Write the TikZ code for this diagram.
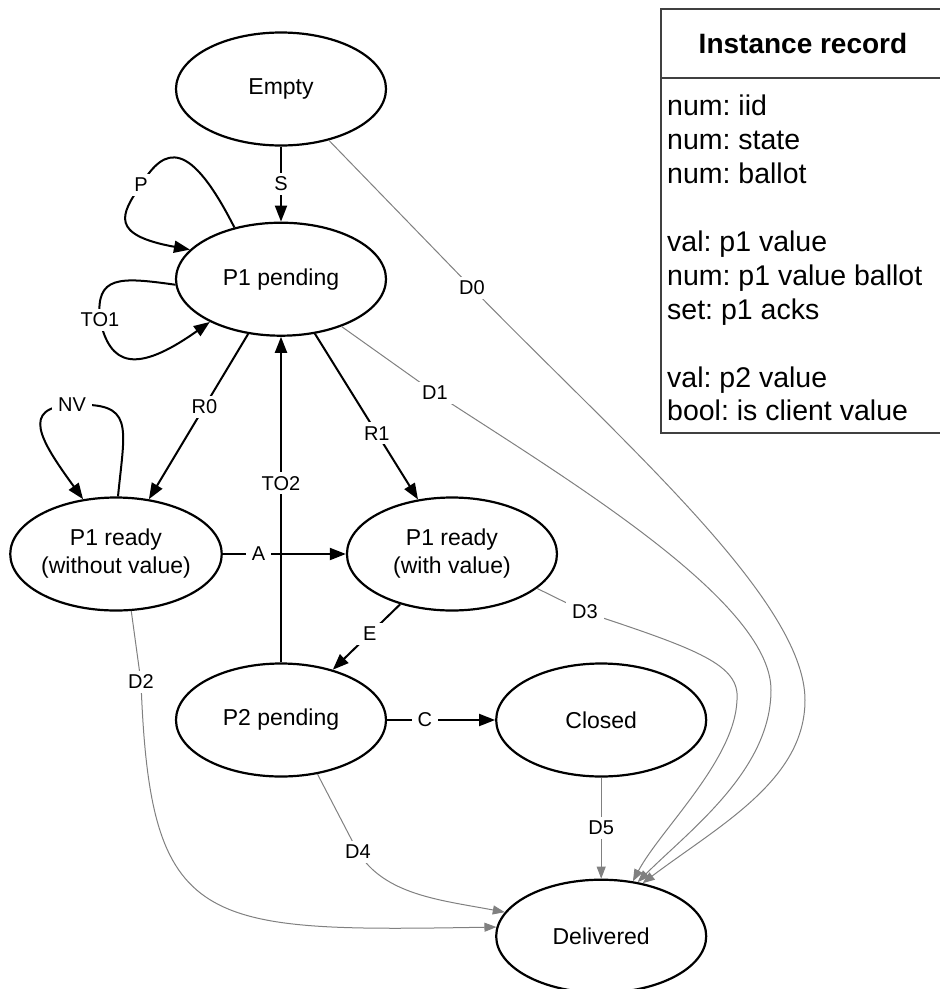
\documentclass[tikz,border=0pt]{standalone}
\usepackage{fontspec}
\setmainfont{Liberation Sans}
\usetikzlibrary{arrows.meta,shapes.geometric,positioning}

\definecolor{dropgray}{RGB}{128,128,128}
\frenchspacing

\begin{document}
\begin{tikzpicture}[x=1pt,y=-1pt,node distance=75pt,
                     state/.style={
                                % The shape:
                                ellipse,minimum width=210pt,minimum height=113pt,inner sep=0pt,
                                % The rest
                                line width=2.2pt,draw=black,align=center,
                                font=\fontsize{23}{28}\selectfont},
                     trans/.style={line width=2pt,-{Triangle[length=16pt,width=12pt]}},
                     drop/.style={line width=1pt,draw=dropgray,
                                -{Triangle[length=12pt,width=9pt]}},
                     lab/.style={fill=white,inner xsep=6pt,inner ysep=4pt,
                                font=\fontsize{20}{24}\selectfont},
                     record/.style={draw=black!75,line width=1.2pt,inner sep=0pt,
                                outer sep=0pt,minimum width=284pt}]
 \useasboundingbox (0,0) rectangle (940,989);
 \clip (0,0) rectangle (940,989);
 % states
 \node (empty)    [state]                     at (281,89)  {Empty};
            \node (pend1)    [state,below=of empty]      {P1 pending};
            \node (readyno)  [state]                     at (116,554) {P1 ready\\(without value)};
            \node (readyval) [state,right=123pt of readyno] {P1 ready\\(with value)};
            \node (pend2)    [state]                     at (281,720) {P2 pending};
            \node (closed)   [state,right=108pt of pend2] {Closed};
            \node (deliv)    [state,below=101pt of closed] {Delivered};
 % record
 \node (rechead) [record,anchor=north west,minimum height=69pt,
                  font=\fontsize{28}{33}\selectfont\bfseries] at (661,9) {Instance record};
            \node (recbody) [record,anchor=north west,minimum height=355pt] at (rechead.south west) {};
            \node (rectext) [anchor=north west,align=left,inner sep=0pt,
                  font=\fontsize{28.5}{33.9}\selectfont] at (667,95)
                  {num: iid\\num: state\\num: ballot\\[33.9pt]val: p1 value\\num: p1 value ballot\\
                   set: p1 acks\\[33.9pt]val: p2 value\\bool: is client value};
 % transitions
 \draw [trans] (empty) -- node [lab] {S} (pend1);
            \draw [trans] (pend1) -- node [lab,pos=.44] {R0} (readyno);
            \draw [trans] (pend1) -- node [lab,pos=.6] {R1} (readyval);
            \draw [trans] (pend2) -- node [lab,pos=.55] {TO2} (pend1);
            \draw [trans] (readyno) -- node [lab,pos=.29] {A} (readyval);
            \draw [trans] (readyval) -- node [lab,pos=.45] {E} (pend2);
            \draw [trans] (pend2) -- node [lab,pos=.35] {C} (closed);
            \draw [trans] (pend1.132) .. controls (190,140) and (165,145) .. (141,185) node [lab] {P}
                              .. controls (120,215) and (110,235) .. (pend1.162);
            \draw [trans] (pend1.183) .. controls (120,277) and (95,275) .. (100,320) node [lab] {TO1}
                              .. controls (110,365) and (135,375) .. (pend1.-149);
            \draw [trans] (readyno.88) .. controls (125,425) and (135,402) .. (72,405) node [lab] {NV}
                              .. controls (20,407) and (40,440) .. (readyno.121);
 % deliveries
 \draw [drop] (empty.-47) -- (472,288) node [lab] {D0}
                              .. controls (620,440) and (805,600) .. (805,700)
                              .. controls (805,780) and (720,825) .. (deliv.52);
            \draw [drop] (pend1.-38) -- (435,393) node [lab] {D1}
                              .. controls (560,475) and (771,600) .. (771,690)
                              .. controls (771,770) and (690,830) .. (deliv.56);
            \draw [drop] (readyno.-75) -- (141,682) node [lab] {D2}
                              .. controls (150,930) and (200,932) .. (deliv.175);
            \draw [drop] (readyval.-22) -- (585,612) node [lab] {D3}
                              .. controls (700,650) and (740,665) .. (737,700)
                              .. controls (735,760) and (660,830) .. (deliv.60);
            \draw [drop] (pend2.-56) -- (358,852) node [lab] {D4}
                              .. controls (385,895) and (440,900) .. (deliv.166);
            \draw [drop] (closed) -- node [lab] {D5} (deliv);
\end{tikzpicture}
\end{document}
